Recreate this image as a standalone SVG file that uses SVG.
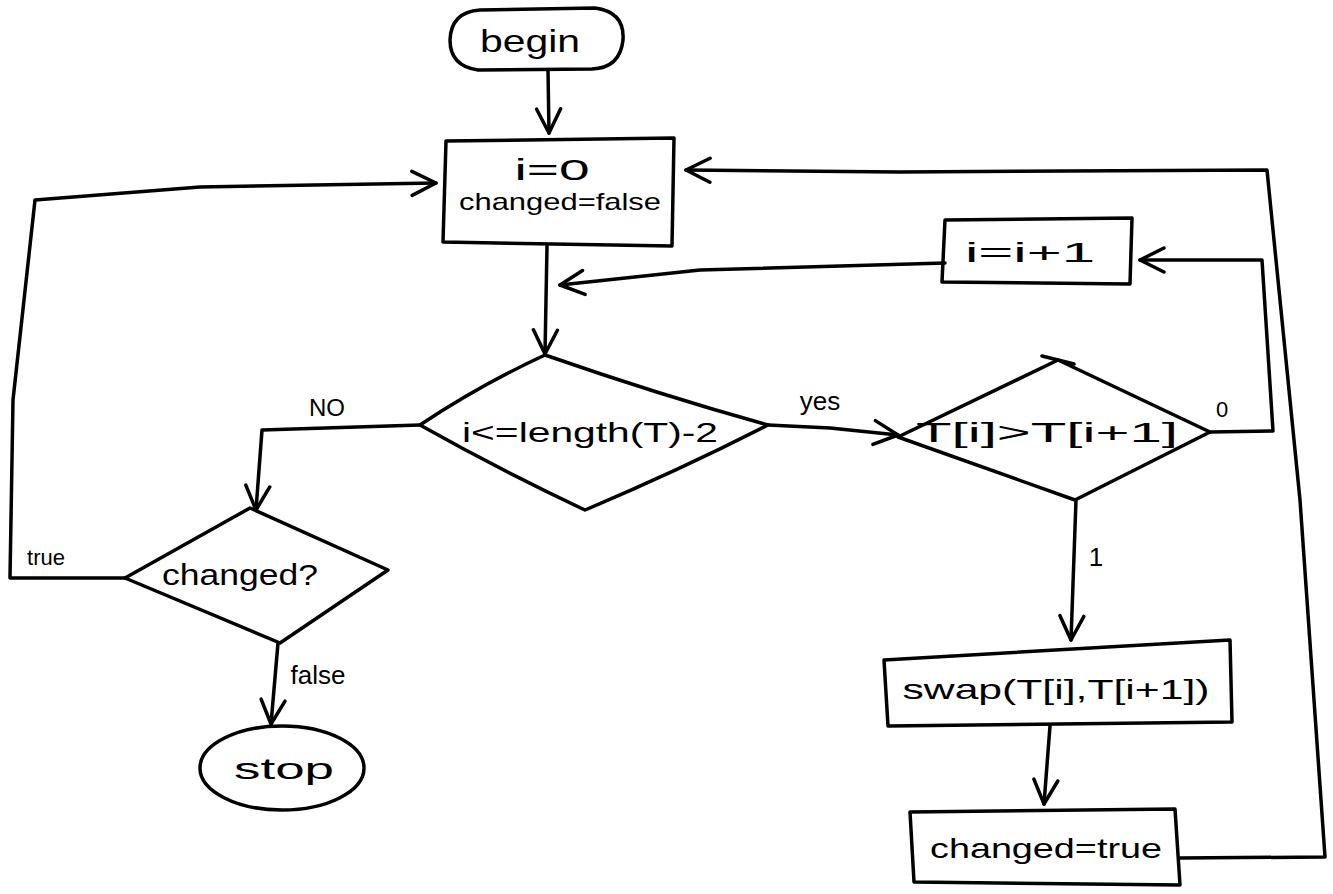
<svg xmlns="http://www.w3.org/2000/svg" width="1333" height="894" viewBox="0 0 1333 894">
  <style>
    .ink { fill: none; stroke: #000; stroke-width: 3.5; stroke-linecap: round; stroke-linejoin: round; }
    .lbl { font-family: "Liberation Sans", "DejaVu Sans", sans-serif; fill: #000; text-anchor: middle; }
  </style>
  <defs>
    <marker id="vee" viewBox="0 0 30 30" refX="28" refY="15" markerWidth="30" markerHeight="30" markerUnits="userSpaceOnUse" orient="auto">
      <polyline points="4,3 28,15 4,27" fill="none" stroke="#000" stroke-width="3.5" stroke-linecap="round" stroke-linejoin="round"/>
    </marker>
  </defs>
  <rect width="1333" height="894" fill="#fff"/>

  <!-- connectors -->
  <g id="connectors" class="ink">
    <path d="M548,70 L549,133" marker-end="url(#vee)"/>
    <path d="M547,246 L545,354" marker-end="url(#vee)"/>
    <path d="M945,263 L700,270 L560,285" marker-end="url(#vee)"/>
    <path d="M768,425 L830,428 L898,435" marker-end="url(#vee)"/>
    <path d="M1210,432 L1273,431 L1262,260 L1140,260" marker-end="url(#vee)"/>
    <path d="M1076,500 L1071,640" marker-end="url(#vee)"/>
    <path d="M1050,726 L1044,804" marker-end="url(#vee)"/>
    <path d="M1180,858 L1325,857 L1300,500 L1267,170 L900,172 L686,170" marker-end="url(#vee)"/>
    <path d="M420,425 L262,430 L256,510" marker-end="url(#vee)"/>
    <path d="M125,578 L10,578 L13,400 L35,200 L200,187 L436,183" marker-end="url(#vee)"/>
    <path d="M278,643 L271,724" marker-end="url(#vee)"/>
  </g>

  <g id="begin">
    <path class="ink" d="M480,10 L595,8 Q625,12 623,40 Q620,68 592,69 L478,70 Q450,66 450,40 Q451,12 480,10 Z"/>
    <text class="lbl" x="530" y="52" font-size="32" textLength="100" lengthAdjust="spacingAndGlyphs">begin</text>
  </g>

  <g id="init">
    <path class="ink" d="M446,141 L674,138 L672,246 L443,242 Z"/>
    <text class="lbl" x="552" y="180" font-size="30" textLength="75" lengthAdjust="spacingAndGlyphs">i=0</text>
    <text class="lbl" x="560" y="210" font-size="24" textLength="202" lengthAdjust="spacingAndGlyphs">changed=false</text>
  </g>

  <g id="increment">
    <path class="ink" d="M945,220 L1132,218 L1130,284 L942,282 Z"/>
    <text class="lbl" x="1030" y="262" font-size="28" textLength="130" lengthAdjust="spacingAndGlyphs">i=i+1</text>
  </g>

  <g id="loop-test">
    <path class="ink" d="M545,355 Q660,395 768,425 Q680,470 585,510 Q500,470 420,425 Q480,385 545,355 Z"/>
    <text class="lbl" x="590" y="442" font-size="28" textLength="256" lengthAdjust="spacingAndGlyphs">i&lt;=length(T)-2</text>
    <text class="lbl" x="820" y="410" font-size="26">yes</text>
    <text class="lbl" x="327" y="416" font-size="24">NO</text>
  </g>

  <g id="compare">
    <path class="ink" d="M1058,360 L1210,432 L1075,500 L898,437 Z"/>
    <path class="ink" d="M1042,356 L1074,364"/>
    <text class="lbl" x="1047" y="442" font-size="28" textLength="262" lengthAdjust="spacingAndGlyphs">T[i]&gt;T[i+1]</text>
    <text class="lbl" x="1222" y="417" font-size="22">0</text>
    <text class="lbl" x="1096" y="566" font-size="26">1</text>
  </g>

  <g id="swap">
    <path class="ink" d="M884,660 L1230,640 L1232,722 L888,726 Z"/>
    <text class="lbl" x="1056" y="699" font-size="28" textLength="307" lengthAdjust="spacingAndGlyphs">swap(T[i],T[i+1])</text>
  </g>

  <g id="set-changed">
    <path class="ink" d="M910,812 L1175,809 L1180,885 L914,882 Z"/>
    <text class="lbl" x="1046" y="858" font-size="28" textLength="232" lengthAdjust="spacingAndGlyphs">changed=true</text>
  </g>

  <g id="changed-test">
    <path class="ink" d="M250,508 L388,570 L280,643 L125,578 Z"/>
    <text class="lbl" x="240" y="585" font-size="30" textLength="156" lengthAdjust="spacingAndGlyphs">changed?</text>
    <text class="lbl" x="46" y="565" font-size="22">true</text>
    <text class="lbl" x="318" y="684" font-size="26">false</text>
  </g>

  <g id="stop">
    <ellipse class="ink" cx="282" cy="768" rx="82" ry="42"/>
    <text class="lbl" x="284" y="779" font-size="30" textLength="100" lengthAdjust="spacingAndGlyphs">stop</text>
  </g>
</svg>
